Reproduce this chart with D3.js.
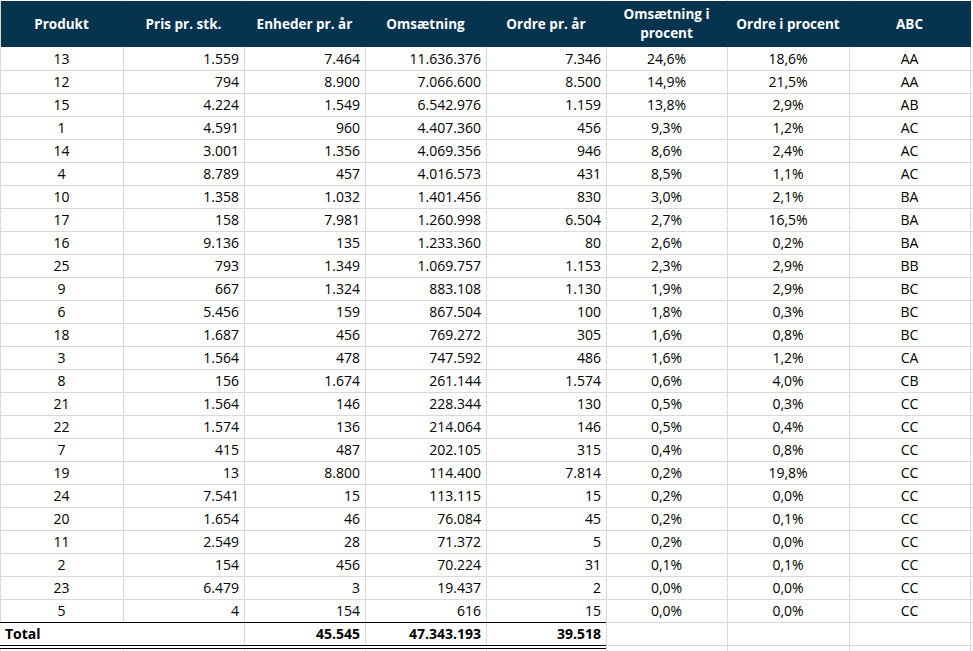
<!DOCTYPE html>
<html>
<head>
<script src="https://d3js.org/d3.v7.min.js"></script>
<style>
  body { margin: 0; background: #fff; }
  text { font-family: "Open Sans", "Liberation Sans", sans-serif; }
</style>
</head>
<body>
<svg id="tbl" width="973" height="651"></svg>
<script>
const headers = ["Produkt", "Pris pr. stk.", "Enheder pr. år", "Omsætning", "Ordre pr. år", "Omsætning i\nprocent", "Ordre i procent", "ABC"];
const produkt = [13, 12, 15, 1, 14, 4, 10, 17, 16, 25, 9, 6, 18, 3, 8, 21, 22, 7, 19, 24, 20, 11, 2, 23, 5];
const pris = ["1.559","794","4.224","4.591","3.001","8.789","1.358","158","9.136","793","667","5.456","1.687","1.564","156","1.564","1.574","415","13","7.541","1.654","2.549","154","6.479","4"];
const enheder = ["7.464","8.900","1.549","960","1.356","457","1.032","7.981","135","1.349","1.324","159","456","478","1.674","146","136","487","8.800","15","46","28","456","3","154"];
const omsaetning = ["11.636.376","7.066.600","6.542.976","4.407.360","4.069.356","4.016.573","1.401.456","1.260.998","1.233.360","1.069.757","883.108","867.504","769.272","747.592","261.144","228.344","214.064","202.105","114.400","113.115","76.084","71.372","70.224","19.437","616"];
const ordre = ["7.346","8.500","1.159","456","946","431","830","6.504","80","1.153","1.130","100","305","486","1.574","130","146","315","7.814","15","45","5","31","2","15"];
const omsPct = ["24,6%","14,9%","13,8%","9,3%","8,6%","8,5%","3,0%","2,7%","2,6%","2,3%","1,9%","1,8%","1,6%","1,6%","0,6%","0,5%","0,5%","0,4%","0,2%","0,2%","0,2%","0,2%","0,1%","0,0%","0,0%"];
const ordrePct = ["18,6%","21,5%","2,9%","1,2%","2,4%","1,1%","2,1%","16,5%","0,2%","2,9%","2,9%","0,3%","0,8%","1,2%","4,0%","0,3%","0,4%","0,8%","19,8%","0,0%","0,1%","0,0%","0,1%","0,0%","0,0%"];
const abc = ["AA","AA","AB","AC","AC","AC","BA","BA","BA","BB","BC","BC","BC","CA","CB","CC","CC","CC","CC","CC","CC","CC","CC","CC","CC"];
const totals = ["Total", "", "45.545", "47.343.193", "39.518", "", "", ""];

const columns = [produkt, pris, enheder, omsaetning, ordre, omsPct, ordrePct, abc];
const colEdges = [0, 123, 244, 365, 486, 606, 727, 849, 970];
const align = ["middle", "end", "end", "end", "end", "middle", "middle", "middle"];

const svg = d3.select("#tbl");
const rowsData = produkt.map((d, i) => columns.map(c => String(c[i])));

const y = d3.scaleBand().domain(d3.range(rowsData.length + 1)).range([47, 645]);
const colX = (j) => align[j] === "middle" ? (colEdges[j] + colEdges[j + 1]) / 2 : colEdges[j + 1] - 5;

// grid lines
svg.selectAll("line.v").data(colEdges).join("line")
  .attr("x1", d => d + 0.5).attr("x2", d => d + 0.5)
  .attr("y1", 0).attr("y2", 651)
  .attr("stroke", "#d9d9d9");
svg.selectAll("line.h").data(d3.range(rowsData.length + 1)).join("line")
  .attr("x1", 0).attr("x2", 973)
  .attr("y1", d => y(d) + y.bandwidth() + 0.5).attr("y2", d => y(d) + y.bandwidth() + 0.5)
  .attr("stroke", "#d9d9d9");

// header
svg.append("rect").attr("x", 1).attr("y", 1).attr("width", 970).attr("height", 46).attr("fill", "#06344f");
headers.forEach((h, j) => {
  const lines = h.split("\n");
  const cx = (colEdges[j] + colEdges[j + 1]) / 2;
  const t = svg.append("text").attr("text-anchor", "middle").attr("fill", "#fff")
    .attr("font-weight", "bold").attr("font-size", 13.5);
  lines.forEach((l, k) => {
    t.append("tspan").attr("x", cx)
      .attr("y", lines.length === 1 ? 29 : 19 + k * 19).text(l);
  });
});

// body
rowsData.forEach((row, i) => {
  svg.selectAll(null).data(row).join("text")
    .attr("x", (d, j) => colX(j))
    .attr("y", y(i) + y.bandwidth() / 2 + 5)
    .attr("text-anchor", (d, j) => align[j])
    .attr("font-size", 14).attr("fill", "#000")
    .text(d => d);
});

// total row
const ti = rowsData.length;
svg.append("rect").attr("x", 0).attr("y", y(ti)).attr("width", 606).attr("height", y.bandwidth() + 4).attr("fill", "#fff");
svg.append("line").attr("x1", 0).attr("x2", 606).attr("y1", y(ti) + 0.5).attr("y2", y(ti) + 0.5).attr("stroke", "#000");
[y(ti) + y.bandwidth() + 0.5, y(ti) + y.bandwidth() + 3.5].forEach(v =>
  svg.append("line").attr("x1", 0).attr("x2", 606).attr("y1", v).attr("y2", v).attr("stroke", "#000"));
[244, 365, 486].forEach(v =>
  svg.append("line").attr("x1", v + 0.5).attr("x2", v + 0.5).attr("y1", y(ti) + 1).attr("y2", y(ti) + y.bandwidth()).attr("stroke", "#d9d9d9"));
svg.selectAll(null).data(totals).join("text")
  .attr("x", (d, j) => j === 0 ? 5 : colX(j))
  .attr("y", y(ti) + y.bandwidth() / 2 + 5)
  .attr("text-anchor", (d, j) => j === 0 ? "start" : "end")
  .attr("font-size", 14).attr("font-weight", "bold")
  .text(d => d);
</script>
</body>
</html>
